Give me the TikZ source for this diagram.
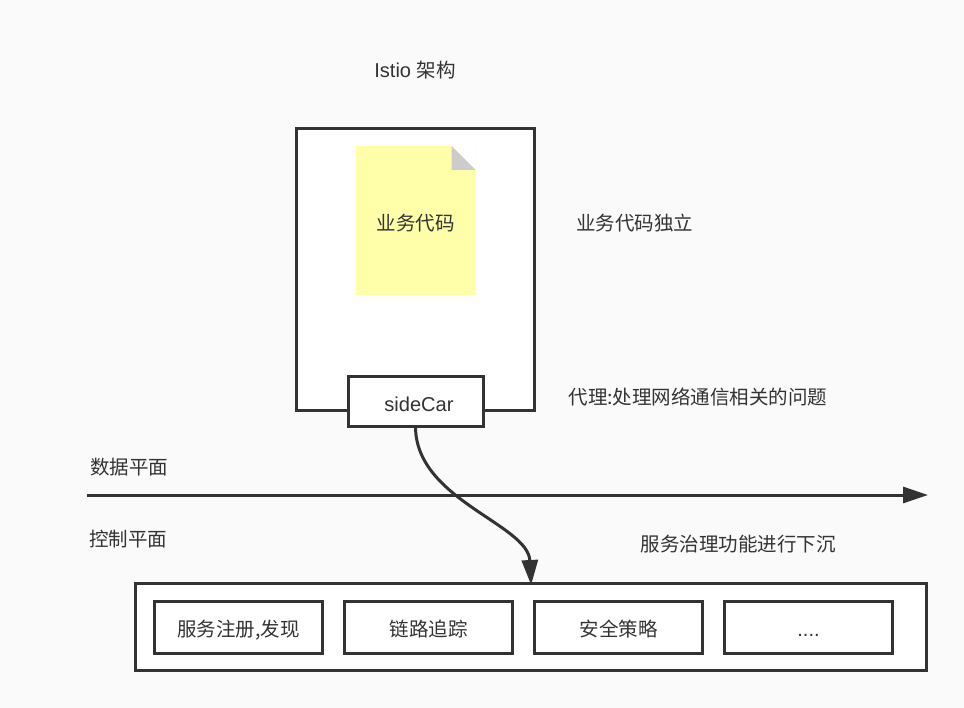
\documentclass[tikz,border=0pt]{standalone}
\usepackage{fontspec}
\setmainfont[Scale=1.03]{Liberation Sans}
\newfontfamily\cjk{Noto Sans CJK SC}
\usetikzlibrary{arrows.meta}
\definecolor{pagebg}{HTML}{FAFAFA}
\definecolor{inkcol}{HTML}{333333}
\definecolor{notecol}{HTML}{FFFFAA}
\definecolor{foldcol}{HTML}{CCCCCC}
\tikzset{
    label/.style = {text = inkcol, inner sep = 0pt},
    box/.style = {draw = inkcol, fill = white, line width = 3pt, inner sep = 0pt, outer sep = 0pt, text = inkcol},
    item/.style = {box, minimum width = 168.5pt, minimum height = 52pt, text height = 23pt, text depth = 5pt},
    link/.style = {draw = inkcol, line width = 3pt, -{Triangle[length = 25pt, width = 16pt]}}
}

\begin{document}
\begin{tikzpicture}[x = 1pt, y = -1pt, font = \fontsize{19.5}{23}\selectfont]
    \fill[pagebg] (0,0) rectangle (964,708);
    \useasboundingbox (0,0) rectangle (964,708);

    \node[label] (title) at (415,70) {Istio {\cjk 架构}};

    \node[box, minimum width = 238.5pt, minimum height = 282pt] (pod) at (415.5,270) {};
    \node[fill = notecol, minimum width = 120pt, minimum height = 149pt, inner sep = 0pt, outer sep = 0pt] (note) at (415.5,220.5) {};
    \fill[white] (note.north east) -- ++(-24,0) -- ++(24,24) -- cycle;
    \fill[foldcol] (note.north east) ++(-24,0) -- ++(0,24) -- ++(24,0) -- cycle;
    \node[label] (code) at (415.5,223) {\cjk 业务代码};
    \node[box, minimum width = 135pt, minimum height = 50pt, text height = 24pt, text depth = 4.6pt] (sidecar) at (415.5,402) {\hspace{7pt}sideCar};

    \node[label] (codenote) at (634.5,223) {\cjk 业务代码独立};
    \node[label] (proxynote) at (698,397) {\cjk 代理:处理网络通信相关的问题};
    \node[label] (dataplane) at (129,467) {\cjk 数据平面};
    \node[label] (ctrlplane) at (128,539) {\cjk 控制平面};
    \node[label] (sinknote) at (738,544) {\cjk 服务治理功能进行下沉};

    \coordinate (axisstart) at (87,495);
    \coordinate (axisend) at (928,495);

    \node[box, minimum width = 791.5pt, minimum height = 87pt] (ctrl) at (531,626.5) {};
    \node[item] (registry) at (238.5,627) {\cjk 服务注册,发现};
    \node[item] (tracing) at (428.5,627) {\cjk 链路追踪};
    \node[item] (security) at (618.5,627) {\cjk 安全策略};
    \node[item] (more) at (808.5,627) {....};

    \draw[link] (axisstart) -- (axisend);
    \draw[link, shorten > = -2pt] (sidecar.south) .. controls (416,500) and (528,524) .. (ctrl.north);
\end{tikzpicture}
\end{document}
